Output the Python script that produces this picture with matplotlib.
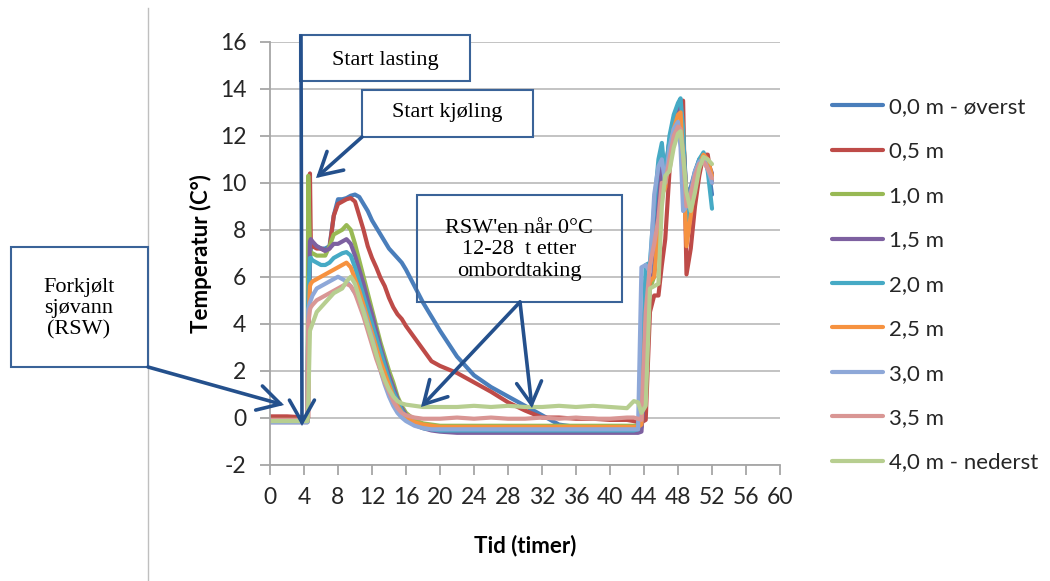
import matplotlib
matplotlib.use("Agg")
import matplotlib.pyplot as plt
from matplotlib.patches import Rectangle, FancyArrowPatch
from matplotlib.lines import Line2D

plt.rcParams["axes.unicode_minus"] = False

# Tid (timer) - felles tidsakse for alle sensorene
tid = [0, 2, 4.4, 4.5, 4.7, 4.8, 5, 5.5, 6, 6.5, 7, 7.5, 8, 8.5, 9, 9.5, 10,
       10.5, 11, 11.5, 12, 12.5, 13, 13.5, 14, 14.5, 15, 15.5, 16, 17, 18, 19,
       20, 22, 24, 26, 28, 30, 32, 34, 36, 38, 40, 42, 42.8, 43.3, 43.7, 44.2,
       44.7, 45.2, 45.7, 46.1, 46.5, 47, 47.5, 48, 48.3, 48.6, 49, 49.5, 50,
       50.5, 51, 51.5, 52]

t_00 = [-0.15, -0.15, -0.15, 3.0, 6.5, 7.2, 7.3, 7.3, 7.2, 7.2, 7.3, 8.6, 9.3,
        9.3, 9.35, 9.45, 9.5, 9.4, 9.1, 8.8, 8.4, 8.1, 7.8, 7.5, 7.2, 7.0, 6.8,
        6.6, 6.3, 5.6, 4.9, 4.3, 3.7, 2.6, 1.8, 1.3, 0.9, 0.5, 0.1, -0.3, -0.4,
        -0.45, -0.45, -0.45, -0.45, -0.45, -0.4, 4.5, 6.0, 6.5, 9.5, 11.0, 10.5,
        11.8, 12.6, 13.2, 13.2, 12.0, 9.5, 9.8, 10.5, 11.0, 11.2, 10.8, 9.5]
t_05 = [0.05, 0.05, 0.0, 0.0, 10.4, 7.5, 7.3, 7.2, 7.2, 7.1, 7.2, 8.6, 9.1,
        9.2, 9.3, 9.35, 9.2, 8.6, 8.0, 7.3, 6.8, 6.4, 5.95, 5.6, 5.1, 4.7, 4.4,
        4.2, 3.9, 3.4, 2.9, 2.4, 2.2, 1.9, 1.5, 1.1, 0.65, 0.3, 0.0, 0.0, -0.05,
        -0.05, -0.1, -0.1, -0.15, -0.2, -0.2, -0.1, 4.5, 5.2, 5.2, 6.5, 7.6,
        10.5, 12.2, 13.2, 13.5, 13.5, 6.1, 7.2, 9.0, 10.3, 11.2, 11.2, 10.0]
t_10 = [-0.1, -0.1, -0.1, 10.3, 7.2, 7.0, 7.0, 6.9, 6.9, 6.9, 7.3, 7.8, 7.9,
        8.0, 8.2, 8.0, 7.4, 6.7, 6.0, 5.3, 4.6, 3.9, 3.2, 2.6, 2.0, 1.5, 0.9,
        0.5, 0.2, -0.1, -0.25, -0.3, -0.35, -0.35, -0.35, -0.35, -0.35, -0.35,
        -0.35, -0.35, -0.35, -0.35, -0.35, -0.35, -0.35, -0.35, -0.3, 3.0, 5.5,
        6.0, 8.5, 10.5, 10.0, 11.5, 12.5, 13.0, 13.0, 12.2, 9.0, 9.5, 10.4,
        10.9, 11.1, 10.8, 10.3]
t_15 = [-0.2, -0.2, -0.2, 4.0, 7.5, 7.6, 7.5, 7.3, 7.2, 7.1, 7.2, 7.4, 7.4,
        7.5, 7.6, 7.4, 6.9, 6.3, 5.7, 5.0, 4.4, 3.7, 3.0, 2.4, 1.8, 1.3, 0.8,
        0.4, 0.1, -0.3, -0.45, -0.55, -0.6, -0.65, -0.65, -0.65, -0.65, -0.65,
        -0.65, -0.65, -0.65, -0.65, -0.65, -0.65, -0.65, -0.65, -0.6, 2.0, 5.8,
        6.3, 9.0, 10.8, 10.3, 11.8, 12.7, 13.2, 13.3, 12.0, 9.3, 9.6, 10.3,
        10.9, 11.1, 10.9, 10.4]
t_20 = [-0.15, -0.15, -0.15, 5.0, 6.8, 6.8, 6.7, 6.6, 6.5, 6.5, 6.6, 6.8, 6.9,
        7.0, 7.05, 6.9, 6.4, 5.8, 5.2, 4.6, 4.0, 3.4, 2.8, 2.2, 1.6, 1.1, 0.7,
        0.3, 0.0, -0.3, -0.45, -0.5, -0.55, -0.55, -0.55, -0.55, -0.55, -0.55,
        -0.55, -0.55, -0.55, -0.55, -0.55, -0.55, -0.55, -0.5, 1.0, 6.5, 6.6,
        9.0, 11.0, 11.7, 10.2, 12.0, 12.9, 13.4, 13.6, 12.3, 8.4, 9.3, 10.4,
        11.0, 11.3, 10.5, 8.9]
t_25 = [-0.15, -0.15, -0.15, 4.0, 5.6, 5.7, 5.8, 5.9, 6.0, 6.1, 6.2, 6.3, 6.4,
        6.5, 6.6, 6.4, 5.9, 5.4, 4.8, 4.2, 3.6, 3.0, 2.4, 1.9, 1.4, 0.9, 0.5,
        0.2, 0.0, -0.2, -0.3, -0.35, -0.4, -0.4, -0.4, -0.4, -0.4, -0.4, -0.4,
        -0.4, -0.4, -0.4, -0.4, -0.4, -0.4, -0.4, -0.3, 4.0, 5.8, 6.0, 8.0, 9.5,
        9.8, 11.3, 12.3, 12.9, 13.0, 11.0, 7.3, 8.6, 10.0, 10.8, 11.2, 11.0,
        10.3]
t_30 = [-0.2, -0.2, -0.2, 4.6, 4.9, 5.0, 5.2, 5.5, 5.6, 5.7, 5.8, 5.9, 6.0,
        5.9, 5.8, 5.6, 5.3, 5.0, 4.6, 4.0, 3.4, 2.7, 2.0, 1.4, 0.9, 0.5, 0.2,
        0.0, -0.15, -0.35, -0.45, -0.5, -0.5, -0.5, -0.5, -0.5, -0.5, -0.5,
        -0.5, -0.5, -0.5, -0.5, -0.5, -0.5, -0.5, -0.5, 6.4, 6.5, 6.2, 9.5,
        10.7, 11.0, 10.0, 11.5, 12.3, 12.6, 11.5, 8.8, 9.0, 9.6, 10.5, 10.9,
        11.0, 10.6, 10.0]
t_35 = [-0.1, -0.1, -0.1, 4.0, 4.6, 4.7, 4.8, 5.0, 5.1, 5.2, 5.3, 5.4, 5.5,
        5.6, 5.7, 5.6, 5.3, 4.8, 4.3, 3.7, 3.1, 2.5, 2.0, 1.5, 1.1, 0.7, 0.4,
        0.2, 0.1, 0.0, -0.05, -0.05, -0.05, 0.0, -0.05, 0.0, -0.05, -0.05,
        0.0, -0.05, 0.0, -0.05, -0.05, 0.0, 0.0, -0.05, -0.1, 4.5, 6.5, 7.4,
        8.5, 10.0, 10.0, 11.0, 12.0, 12.4, 12.3, 11.2, 9.0, 9.5, 10.3, 10.8,
        10.9, 10.6, 10.2]
t_40 = [-0.15, -0.15, -0.15, 0.5, 3.7, 3.8, 4.0, 4.5, 4.7, 4.9, 5.1, 5.3, 5.4,
        5.5, 5.8, 6.0, 5.7, 5.1, 4.5, 3.9, 3.3, 2.7, 2.1, 1.6, 1.2, 0.9, 0.7,
        0.6, 0.55, 0.5, 0.45, 0.45, 0.45, 0.45, 0.5, 0.45, 0.5, 0.45, 0.45,
        0.5, 0.45, 0.5, 0.45, 0.4, 0.7, 0.65, 0.2, 0.5, 5.5, 5.6, 5.7, 9.0,
        10.3, 10.5, 11.5, 12.1, 12.2, 11.2, 9.6, 8.8, 9.6, 10.6, 11.1, 11.0,
        10.8]

serier = [t_00, t_05, t_10, t_15, t_20, t_25, t_30, t_35, t_40]
navn = ["0,0 m - øverst", "0,5 m", "1,0 m", "1,5 m", "2,0 m", "2,5 m",
        "3,0 m", "3,5 m", "4,0 m - nederst"]
farger = ["#4A7EBB", "#BE4B48", "#98B954", "#7D60A0", "#46AAC5", "#F69240",
          "#8EA8D8", "#D99694", "#B7CE90"]

W, H = 1050, 581
fig = plt.figure(figsize=(W / 100, H / 100), dpi=100)

def fx(x):
    return x / W

def fy(y):
    # y maalt ovenfra i bildet
    return 1 - y / H

ax = fig.add_axes([fx(270), fy(464.5), 510 / W, 422.5 / H])

for verdier, lbl, c in zip(serier, navn, farger):
    ax.plot(tid, verdier, color=c, lw=3.0, label=lbl, solid_capstyle="round")

ax.set_xlim(0, 60)
ax.set_ylim(-2, 16)
ax.set_xticks(range(0, 61, 4))
ax.set_yticks(range(-2, 17, 2))
ax.grid(axis="y", color="#BEBEBE", lw=1.3)
ax.set_axisbelow(True)
for s in ["top", "right"]:
    ax.spines[s].set_visible(False)
for s in ["left", "bottom"]:
    ax.spines[s].set_color("#A6A6A6")
    ax.spines[s].set_linewidth(1.3)
ax.tick_params(colors="#A6A6A6", length=7, width=1.3, labelcolor="#262626",
               labelsize=16.5)
ax.tick_params(axis="y", pad=10)
ax.tick_params(axis="x", pad=9)
for lab in ax.get_xticklabels() + ax.get_yticklabels():
    lab.set_family("Lato")

ax.set_ylabel("Temperatur (C°)", fontsize=16, fontweight="bold", family="Lato")
ax.set_xlabel("Tid (timer)", fontsize=16, fontweight="bold", family="Lato")
ax.yaxis.set_label_coords(-0.114, 0.5)
ax.xaxis.set_label_coords(0.5, -0.165)

leg = ax.legend(loc="upper left", bbox_to_anchor=(fx(832), fy(97)),
                bbox_transform=fig.transFigure, frameon=False,
                prop={"family": "Lato", "size": 16}, handlelength=2.3,
                handletextpad=0.25, labelspacing=1.1, borderpad=0,
                borderaxespad=0)
for t in leg.get_texts():
    t.set_color("#262626")

# tynn grå kantlinje til venstre
fig.add_artist(Line2D([fx(148), fx(148)], [0, fy(8)], color="#BFBFBF", lw=1))

boks_farge = "#3A6398"
pil_farge = "#24508C"

def boks(x0, y0, x1, y1, fyll=True):
    r = Rectangle((fx(x0), fy(y1)), fx(x1) - fx(x0), fy(y0) - fy(y1),
                  transform=fig.transFigure, fc="white" if fyll else "none",
                  ec=boks_farge, lw=1.5, zorder=5)
    fig.add_artist(r)

def pil(x0, y0, x1, y1):
    p = FancyArrowPatch((fx(x0), fy(y0)), (fx(x1), fy(y1)),
                        transform=fig.transFigure,
                        arrowstyle="->,head_length=0.8,head_width=0.45",
                        mutation_scale=20, color=pil_farge, lw=2.6,
                        shrinkA=0, shrinkB=0, joinstyle="miter", zorder=6)
    fig.add_artist(p)

serif = "Liberation Serif"

boks(300, 35, 470, 81)
fig.text(fx(385), fy(60), "Start lasting", family=serif, fontsize=16,
         ha="center", va="center", zorder=7)
pil(301, 36, 302, 426)

boks(362, 90, 533, 137)
fig.text(fx(447), fy(113), "Start kjøling", family=serif, fontsize=16,
         ha="center", va="center", zorder=7)
pil(362, 137, 316, 178)

boks(417, 195, 622, 302, fyll=False)
fig.text(fx(519), fy(250), "RSW'en når 0°C\n12-28  t etter\nombordtaking",
         family=serif, fontsize=16, ha="center", va="center", zorder=7,
         linespacing=1.15)
pil(520, 302, 421, 407)
pil(520, 302, 532, 408)

boks(11, 247, 148, 367)
fig.text(fx(79), fy(309), "Forkjølt\nsjøvann\n(RSW)", family=serif,
         fontsize=16, ha="center", va="center", zorder=7, linespacing=1.15)
pil(148, 367, 284, 405)

fig.savefig("out.png", dpi=100)
